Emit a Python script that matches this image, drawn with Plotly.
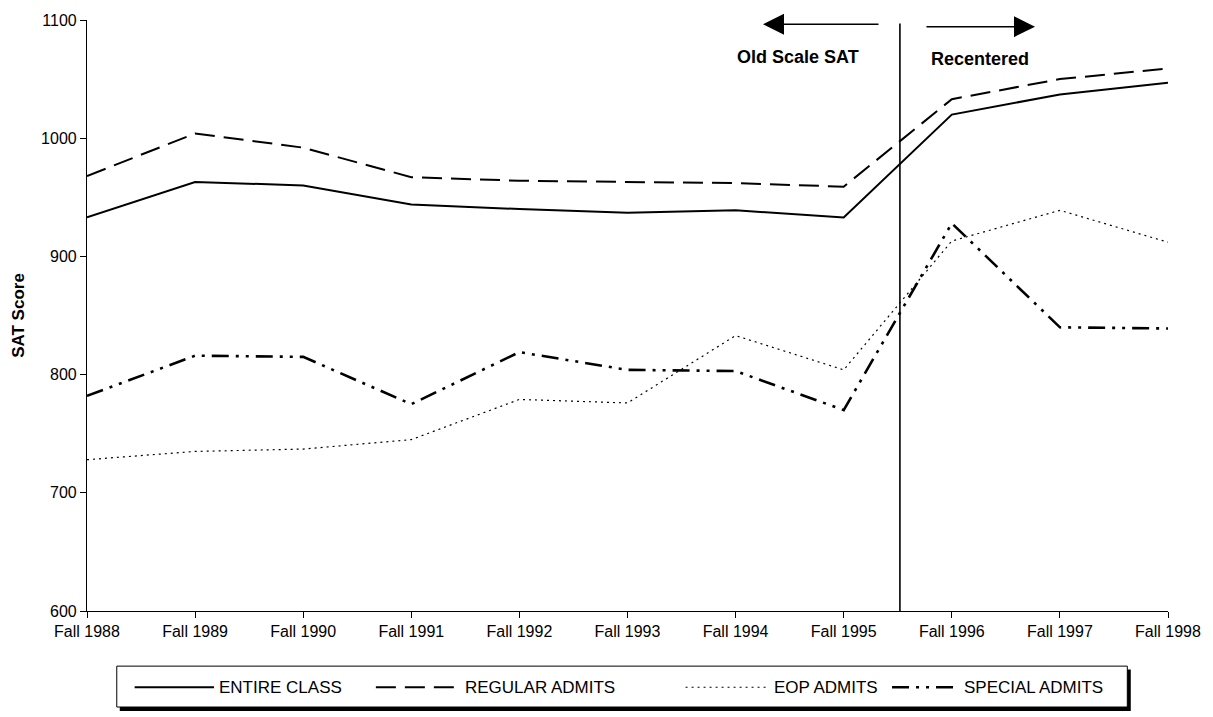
import plotly.graph_objects as go

# ---------------- data ----------------
years = ["Fall 1988", "Fall 1989", "Fall 1990", "Fall 1991", "Fall 1992", "Fall 1993",
         "Fall 1994", "Fall 1995", "Fall 1996", "Fall 1997", "Fall 1998"]
entire_class = [933, 963, 960, 944, 940, 937, 939, 933, 1020, 1037, 1047]
regular_admits = [968, 1004, 992, 967, 964, 963, 962, 959, 1033, 1050, 1059]
eop_admits = [728, 735, 737, 745, 779, 776, 833, 804, 913, 939, 912]
special_admits = [782, 816, 815, 775, 819, 804, 803, 770, 928, 840, 839]
y_ticks = [600, 700, 800, 900, 1000, 1100]
series_names = ["ENTIRE CLASS", "REGULAR ADMITS", "EOP ADMITS", "SPECIAL ADMITS"]
scale_break = 7.52  # position between Fall 1995 and Fall 1996

# ---------------- layout geometry ----------------
W, H = 1213, 717
ML, MR, MT, MB = 87, 37, 14, 106
PW, PH = W - ML - MR, H - MT - MB
FONT = "Liberation Sans, Arial, sans-serif"


def px(xp):
    return (xp - ML) / PW


def py(yp):
    return (H - MB - yp) / PH


styles = [
    dict(color="black", width=2, dash="solid"),
    dict(color="black", width=2, dash="20px,9px"),
    dict(color="black", width=1.2, dash="2px,4px"),
    dict(color="black", width=2.6, dash="17px,7px,3px,7px,3px,7px"),
]
values = [entire_class, regular_admits, eop_admits, special_admits]

fig = go.Figure()
for name, vals, st in zip(series_names, values, styles):
    fig.add_trace(go.Scatter(x=years, y=vals, mode="lines", name=name,
                             line=st, showlegend=False))

shapes = []
annotations = []

# vertical separator between old and recentered scale
shapes.append(dict(type="line", xref="x", yref="y", x0=scale_break, x1=scale_break,
                   y0=600, y1=1097, line=dict(color="black", width=1.6)))

# arrows
annotations.append(dict(xref="paper", yref="paper", x=px(768), y=py(18.3), text="",
                        showarrow=True, axref="pixel", ayref="pixel", ax=117, ay=0,
                        arrowhead=2, arrowwidth=1.5, arrowsize=2.8, arrowcolor="black"))
annotations.append(dict(xref="paper", yref="paper", x=px(1042), y=py(20.7), text="",
                        showarrow=True, axref="pixel", ayref="pixel", ax=-110, ay=0,
                        arrowhead=2, arrowwidth=1.5, arrowsize=2.8, arrowcolor="black"))
annotations.append(dict(xref="paper", yref="paper", x=px(803.5), y=py(51.7),
                        text="<b>Old Scale SAT</b>", showarrow=False,
                        xanchor="center", yanchor="middle",
                        font=dict(family=FONT, size=18, color="black")))
annotations.append(dict(xref="paper", yref="paper", x=px(987), y=py(53.3),
                        text="<b>Recentered</b>", showarrow=False,
                        xanchor="center", yanchor="middle",
                        font=dict(family=FONT, size=18, color="black")))

# legend box with shadow
shapes.append(dict(type="rect", xref="paper", yref="paper", x0=px(120), x1=px(1138.5),
                   y0=py(712), y1=py(670), fillcolor="black", line=dict(width=0),
                   layer="above"))
shapes.append(dict(type="rect", xref="paper", yref="paper", x0=px(117), x1=px(1135),
                   y0=py(708), y1=py(666.7), fillcolor="white",
                   line=dict(color="black", width=1), layer="above"))
leg_y = 688
leg_items = [(135, 215, 218), (378, 461, 466), (690, 773, 777), (898, 962, 968)]
for (s0, s1, t0), name, st in zip(leg_items, series_names, styles):
    shapes.append(dict(type="line", xref="paper", yref="paper", x0=px(s0), x1=px(s1),
                       y0=py(leg_y), y1=py(leg_y), layer="above",
                       line=dict(color=st["color"], width=st["width"], dash=st["dash"])))
    annotations.append(dict(xref="paper", yref="paper", x=px(t0), y=py(leg_y), text=name,
                            showarrow=False, xanchor="left", yanchor="middle",
                            font=dict(family=FONT, size=17, color="black")))

fig.update_layout(
    width=W, height=H,
    margin=dict(l=ML, r=MR, t=MT, b=MB, pad=0),
    paper_bgcolor="white", plot_bgcolor="white",
    font=dict(family=FONT, color="black", size=16),
    showlegend=False,
    shapes=shapes, annotations=annotations,
    xaxis=dict(type="category", range=[0, len(years) - 1], showgrid=False, zeroline=False,
               showline=True, linecolor="black", linewidth=1.2,
               ticks="outside", ticklen=6, tickcolor="black",
               tickfont=dict(family=FONT, size=16, color="black")),
    yaxis=dict(range=[600, 1100], tickvals=y_ticks, showgrid=False, zeroline=False,
               showline=True, linecolor="black", linewidth=1.2,
               ticks="outside", ticklen=6, tickcolor="black",
               tickfont=dict(family=FONT, size=16, color="black"),
               title=dict(text="<b>SAT Score</b>", standoff=12,
                          font=dict(family=FONT, size=17, color="black"))),
)

fig.write_html("out.html",
               config={"displayModeBar": False},
               post_script="document.body.style.margin='0';document.body.style.overflow='hidden';")
